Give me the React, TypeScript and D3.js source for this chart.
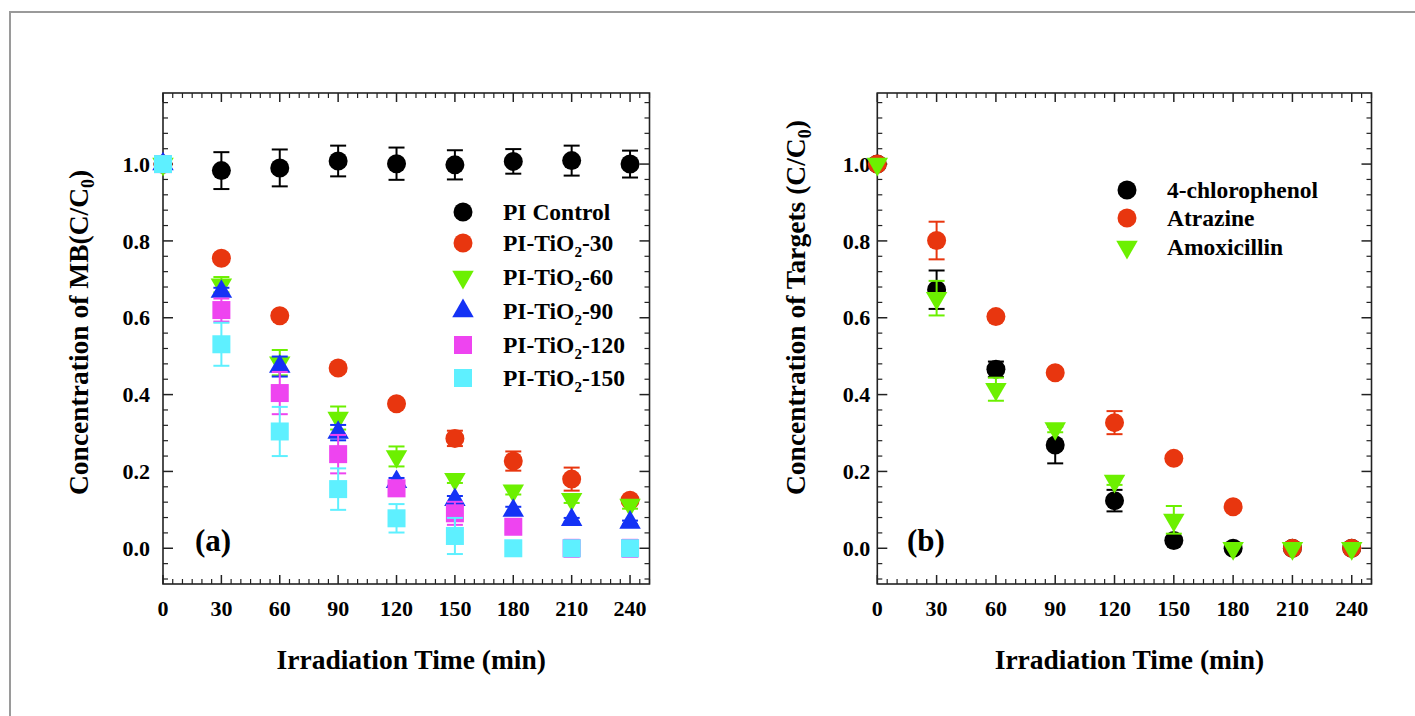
import React from 'react';
import * as d3 from 'd3';

// irradiation times (min)
const times = [0, 30, 60, 90, 120, 150, 180, 210, 240];
const xTicks = [0, 30, 60, 90, 120, 150, 180, 210, 240];
const yTicks = [0, 0.2, 0.4, 0.6, 0.8, 1.0];

// panel (a) - MB degradation
const piControl = [1.0, 0.983, 0.99, 1.008, 1.001, 0.998, 1.007, 1.009, 1.0];
const piControlErr = [0, 0.048, 0.048, 0.04, 0.042, 0.038, 0.032, 0.039, 0.035];
const tio30 = [1.0, 0.755, 0.605, 0.469, 0.376, 0.286, 0.227, 0.18, 0.125];
const tio30Err = [0, 0.01, 0.01, 0.01, 0.01, 0.02, 0.025, 0.03, 0.01];
const tio60 = [1.0, 0.686, 0.483, 0.339, 0.239, 0.18, 0.15, 0.128, 0.113];
const tio60Err = [0, 0.02, 0.033, 0.03, 0.026, 0.01, 0.01, 0.01, 0.01];
const tio90 = [1.0, 0.668, 0.473, 0.301, 0.173, 0.126, 0.098, 0.074, 0.067];
const tio90Err = [0, 0.01, 0.026, 0.02, 0.01, 0.01, 0.01, 0.005, 0.005];
const tio120 = [1.0, 0.62, 0.404, 0.245, 0.156, 0.091, 0.056, 0.0, 0.0];
const tio120Err = [0, 0.03, 0.055, 0.05, 0.02, 0.03, 0.01, 0.022, 0.022];
const tio150 = [1.0, 0.531, 0.304, 0.154, 0.078, 0.032, 0.0, 0.0, 0.0];
const tio150Err = [0, 0.056, 0.064, 0.054, 0.037, 0.047, 0, 0, 0];

// panel (b) - target pollutants
const chlorophenol = [1.0, 0.673, 0.466, 0.269, 0.124, 0.02, 0.0, 0.0, 0.0];
const chlorophenolErr = [0, 0.05, 0.02, 0.048, 0.028, 0.005, 0.005, 0, 0];
const atrazine = [1.0, 0.801, 0.603, 0.457, 0.327, 0.234, 0.108, 0.0, 0.0];
const atrazineErr = [0, 0.049, 0.01, 0.01, 0.03, 0.01, 0.01, 0, 0];
const amoxicillin = [1.0, 0.651, 0.414, 0.312, 0.175, 0.074, 0.0, 0.0, 0.0];
const amoxicillinErr = [0, 0.045, 0.03, 0.01, 0.01, 0.036, 0, 0, 0];

const FONT = "'Liberation Serif', 'Times New Roman', serif";
const RED = '#e8360f';
const GREEN = '#6cf000';
const BLUE = '#1432f5';
const MAGENTA = '#ee44f0';
const CYAN = '#5ef0ff';

type Series = {
  name: string;
  sub?: string;
  suffix?: string;
  values: number[];
  err: number[];
  color: string;
  shape: 'circle' | 'down' | 'up' | 'square';
};

const seriesA: Series[] = [
  { name: 'PI Control', values: piControl, err: piControlErr, color: '#000', shape: 'circle' },
  { name: 'PI-TiO', sub: '2', suffix: '-30', values: tio30, err: tio30Err, color: RED, shape: 'circle' },
  { name: 'PI-TiO', sub: '2', suffix: '-60', values: tio60, err: tio60Err, color: GREEN, shape: 'down' },
  { name: 'PI-TiO', sub: '2', suffix: '-90', values: tio90, err: tio90Err, color: BLUE, shape: 'up' },
  { name: 'PI-TiO', sub: '2', suffix: '-120', values: tio120, err: tio120Err, color: MAGENTA, shape: 'square' },
  { name: 'PI-TiO', sub: '2', suffix: '-150', values: tio150, err: tio150Err, color: CYAN, shape: 'square' },
];

const seriesB: Series[] = [
  { name: '4-chlorophenol', values: chlorophenol, err: chlorophenolErr, color: '#000', shape: 'circle' },
  { name: 'Atrazine', values: atrazine, err: atrazineErr, color: RED, shape: 'circle' },
  { name: 'Amoxicillin', values: amoxicillin, err: amoxicillinErr, color: GREEN, shape: 'down' },
];

const triPath = d3.symbol().type(d3.symbolTriangle).size(200)() as string;

const Marker = ({ shape, x, y, color }: { shape: string; x: number; y: number; color: string }) => {
  if (shape === 'circle') return <circle cx={x} cy={y} r={9.5} fill={color} />;
  if (shape === 'square') return <rect x={x - 9} y={y - 9} width={18} height={18} fill={color} />;
  const rot = shape === 'down' ? 180 : 0;
  return <path d={triPath} transform={`translate(${x},${y}) rotate(${rot})`} fill={color} />;
};

type PanelProps = {
  left: number;
  right: number;
  series: Series[];
  title: string;
  letter: string;
  letterX: number;
  titleX: number;
  tickGap: number;
  legendX: number;
  legendY: number[];
};

const Panel = ({ left, right, series, title, letter, letterX, titleX, tickGap, legendX, legendY }: PanelProps) => {
  const top = 93;
  const bottom = 584;
  const x = d3.scaleLinear().domain([0, 250]).range([left, right]);
  const y = d3.scaleLinear().domain([-0.093, 1.185]).range([bottom, top]);
  const xMinor = d3.range(0, 251, 5).filter((v) => v % 30 !== 0);
  const yMinor = d3.range(-0.08, 1.185, 0.04).filter((v) => Math.abs(Math.round(v / 0.2) * 0.2 - v) > 0.001);
  const ax = '#222';

  return (
    <g>
      {/* ticks on all four sides, pointing in */}
      {xTicks.map((t) => (
        <g key={'xt' + t} stroke={ax} strokeWidth={1.5}>
          <line x1={x(t)} x2={x(t)} y1={bottom} y2={bottom - 9} />
          <line x1={x(t)} x2={x(t)} y1={top} y2={top + 9} />
        </g>
      ))}
      {xMinor.map((t) => (
        <g key={'xm' + t} stroke={ax} strokeWidth={1.2}>
          <line x1={x(t)} x2={x(t)} y1={bottom} y2={bottom - 5} />
          <line x1={x(t)} x2={x(t)} y1={top} y2={top + 5} />
        </g>
      ))}
      {yTicks.map((t) => (
        <g key={'yt' + t} stroke={ax} strokeWidth={1.5}>
          <line x1={left} x2={left + 10} y1={y(t)} y2={y(t)} />
          <line x1={right} x2={right - 10} y1={y(t)} y2={y(t)} />
        </g>
      ))}
      {yMinor.map((t) => (
        <g key={'ym' + t.toFixed(2)} stroke={ax} strokeWidth={1.2}>
          <line x1={left} x2={left + 5} y1={y(t)} y2={y(t)} />
          <line x1={right} x2={right - 5} y1={y(t)} y2={y(t)} />
        </g>
      ))}
      <rect x={left} y={top} width={right - left} height={bottom - top} fill="none" stroke={ax} strokeWidth={1.6} />

      {/* tick labels */}
      {xTicks.map((t) => (
        <text key={'xl' + t} x={x(t)} y={616} textAnchor="middle" fontFamily={FONT} fontWeight="bold" fontSize={22}>
          {t}
        </text>
      ))}
      {yTicks.map((t) => (
        <text key={'yl' + t} x={left - tickGap} y={y(t)} dy="0.35em" textAnchor="end" fontFamily={FONT} fontWeight="bold" fontSize={22}>
          {t.toFixed(1)}
        </text>
      ))}

      {/* axis titles */}
      <text x={(left + right) / 2 + 5} y={669} textAnchor="middle" fontFamily={FONT} fontWeight="bold" fontSize={27.5}>
        Irradiation Time (min)
      </text>
      <text transform={`translate(${titleX},495) rotate(-90)`} fontFamily={FONT} fontWeight="bold" fontSize={27.5}>
        {title}(C/C
        <tspan dy={6} fontSize={18}>0</tspan>
        <tspan dy={-6}>)</tspan>
      </text>

      {/* series: error bars then markers */}
      {series.map((s, si) => (
        <g key={'s' + si}>
          {s.values.map((v, i) =>
            s.err[i] > 0 ? (
              <g key={'e' + i} stroke={s.color} strokeWidth={2}>
                <line x1={x(times[i])} x2={x(times[i])} y1={y(v - s.err[i])} y2={y(v + s.err[i])} />
                <line x1={x(times[i]) - 8} x2={x(times[i]) + 8} y1={y(v - s.err[i])} y2={y(v - s.err[i])} />
                <line x1={x(times[i]) - 8} x2={x(times[i]) + 8} y1={y(v + s.err[i])} y2={y(v + s.err[i])} />
              </g>
            ) : null
          )}
          {s.values.map((v, i) => (
            <Marker key={'m' + i} shape={s.shape} x={x(times[i])} y={y(v)} color={s.color} />
          ))}
        </g>
      ))}

      {/* legend */}
      {series.map((s, si) => (
        <g key={'l' + si}>
          <Marker shape={s.shape} x={legendX} y={legendY[si]} color={s.color} />
          <text x={legendX + 40} y={legendY[si]} dy="0.33em" fontFamily={FONT} fontWeight="bold" fontSize={23.5}>
            {s.name}
            {s.sub ? (
              <>
                <tspan dy={6} fontSize={15}>{s.sub}</tspan>
                <tspan dy={-6}>{s.suffix}</tspan>
              </>
            ) : null}
          </text>
        </g>
      ))}

      <text x={letterX} y={551} textAnchor="middle" fontFamily={FONT} fontWeight="bold" fontSize={31}>
        {letter}
      </text>
    </g>
  );
};

export default function App() {
  return (
    <svg width={1415} height={716} style={{ position: 'absolute', left: 0, top: 0, background: '#fff' }}>
      <rect x={0} y={0} width={1415} height={716} fill="#fff" />
      <rect x={10} y={12} width={1430} height={740} fill="none" stroke="#9a9a9a" strokeWidth={2} />
      <Panel
        left={163}
        right={649.5}
        series={seriesA}
        title="Concentration of MB"
        letter="(a)"
        letterX={213}
        titleX={88}
        tickGap={13}
        legendX={463}
        legendY={[212, 243, 277, 311, 345, 378]}
      />
      <Panel
        left={877.3}
        right={1371.5}
        series={seriesB}
        title="Concentration of Targets "
        letter="(b)"
        letterX={926}
        titleX={805}
        tickGap={7}
        legendX={1127}
        legendY={[190, 218, 247]}
      />
    </svg>
  );
}
